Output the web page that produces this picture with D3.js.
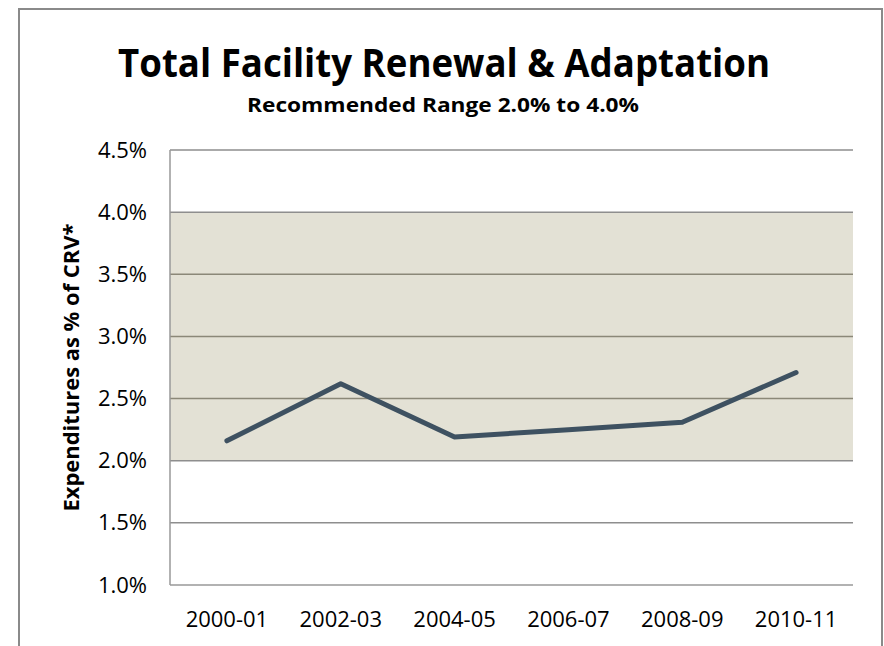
<!DOCTYPE html>
<html>
<head>
<meta charset="utf-8">
<script src="https://cdn.jsdelivr.net/npm/d3@7"></script>
<style>
  html, body { margin: 0; padding: 0; background: #fff; }
  svg { display: block; font-family: "Open Sans", sans-serif; }
</style>
</head>
<body>
<svg id="chart" width="884" height="646"></svg>
<script>
// chart data
var categories = ["2000-01", "2002-03", "2004-05", "2006-07", "2008-09", "2010-11"];
var values = [2.16, 2.62, 2.19, 2.25, 2.31, 2.71];
var bandRange = [2.0, 4.0];
var yTicks = [1.0, 1.5, 2.0, 2.5, 3.0, 3.5, 4.0, 4.5];

var svg = d3.select('#chart');
var pLeft = 170, pRight = 853, pTop = 150, pBottom = 585;

var x = d3.scaleBand().domain(categories).range([pLeft, pRight]);
var y = d3.scaleLinear().domain([1.0, 4.5]).range([pBottom, pTop]);
var cx = function(d) { return x(d) + x.bandwidth() / 2; };

// outer frame
svg.append('rect')
    .attr('x', 19).attr('y', 9)
    .attr('width', 863).attr('height', 660)
    .attr('fill', 'none')
    .attr('stroke', '#8a8a8a')
    .attr('stroke-width', 2);

// recommended range band
svg.append('rect')
    .attr('x', pLeft)
    .attr('y', y(bandRange[1]))
    .attr('width', pRight - pLeft)
    .attr('height', y(bandRange[0]) - y(bandRange[1]))
    .attr('fill', '#e3e1d5');

// gridlines
svg.append('g')
  .selectAll('line')
  .data(yTicks.slice(1))
  .enter().append('line')
    .attr('x1', pLeft)
    .attr('x2', pRight)
    .attr('y1', function(d) { return y(d); })
    .attr('y2', function(d) { return y(d); })
    .attr('stroke', function(d) { return d > bandRange[0] && d < bandRange[1] ? '#8b8878' : '#8e8e8e'; })
    .attr('stroke-width', 1.5);

// axis lines
svg.append('line')
    .attr('x1', pLeft).attr('x2', pLeft)
    .attr('y1', pTop).attr('y2', pBottom)
    .attr('stroke', '#999').attr('stroke-width', 1.5);
svg.append('line')
    .attr('x1', pLeft).attr('x2', pRight)
    .attr('y1', pBottom).attr('y2', pBottom)
    .attr('stroke', '#999').attr('stroke-width', 1.5);

// y axis labels
var yAxis = d3.axisLeft(y)
    .tickValues(yTicks)
    .tickFormat(function(d) { return d.toFixed(1) + '%'; })
    .tickSize(0)
    .tickPadding(23);
var gy = svg.append('g').attr('transform', 'translate(' + pLeft + ',0)').call(yAxis);
gy.select('.domain').remove();
gy.selectAll('text')
    .attr('font-family', '"Open Sans", sans-serif')
    .attr('font-size', 22)
    .attr('fill', '#000');

// x axis labels
var xAxis = d3.axisBottom(x).tickSize(0).tickPadding(26);
var gx = svg.append('g').attr('transform', 'translate(0,' + pBottom + ')').call(xAxis);
gx.select('.domain').remove();
gx.selectAll('text')
    .attr('font-family', '"Open Sans", sans-serif')
    .attr('font-size', 22)
    .attr('fill', '#000');

// data line
var line = d3.line()
    .x(function(d, i) { return cx(categories[i]); })
    .y(function(d) { return y(d); });
svg.append('path')
    .datum(values)
    .attr('d', line)
    .attr('fill', 'none')
    .attr('stroke', '#3e5161')
    .attr('stroke-width', 5)
    .attr('stroke-linecap', 'round')
    .attr('stroke-linejoin', 'round');

// titles
svg.append('text')
    .attr('x', 444).attr('y', 77)
    .attr('text-anchor', 'middle')
    .attr('font-size', 39)
    .attr('font-weight', 'bold')
    .attr('textLength', 652)
    .attr('lengthAdjust', 'spacingAndGlyphs')
    .text('Total Facility Renewal & Adaptation');

svg.append('text')
    .attr('x', 443).attr('y', 112)
    .attr('text-anchor', 'middle')
    .attr('font-size', 20)
    .attr('font-weight', 'bold')
    .attr('textLength', 392)
    .attr('lengthAdjust', 'spacingAndGlyphs')
    .text('Recommended Range 2.0% to 4.0%');

svg.append('text')
    .attr('transform', 'translate(79,' + ((pTop + pBottom) / 2) + ')rotate(-90)')
    .attr('text-anchor', 'middle')
    .attr('font-size', 21)
    .attr('font-weight', 'bold')
    .attr('textLength', 288)
    .attr('lengthAdjust', 'spacingAndGlyphs')
    .text('Expenditures as % of CRV*');
</script>
</body>
</html>
